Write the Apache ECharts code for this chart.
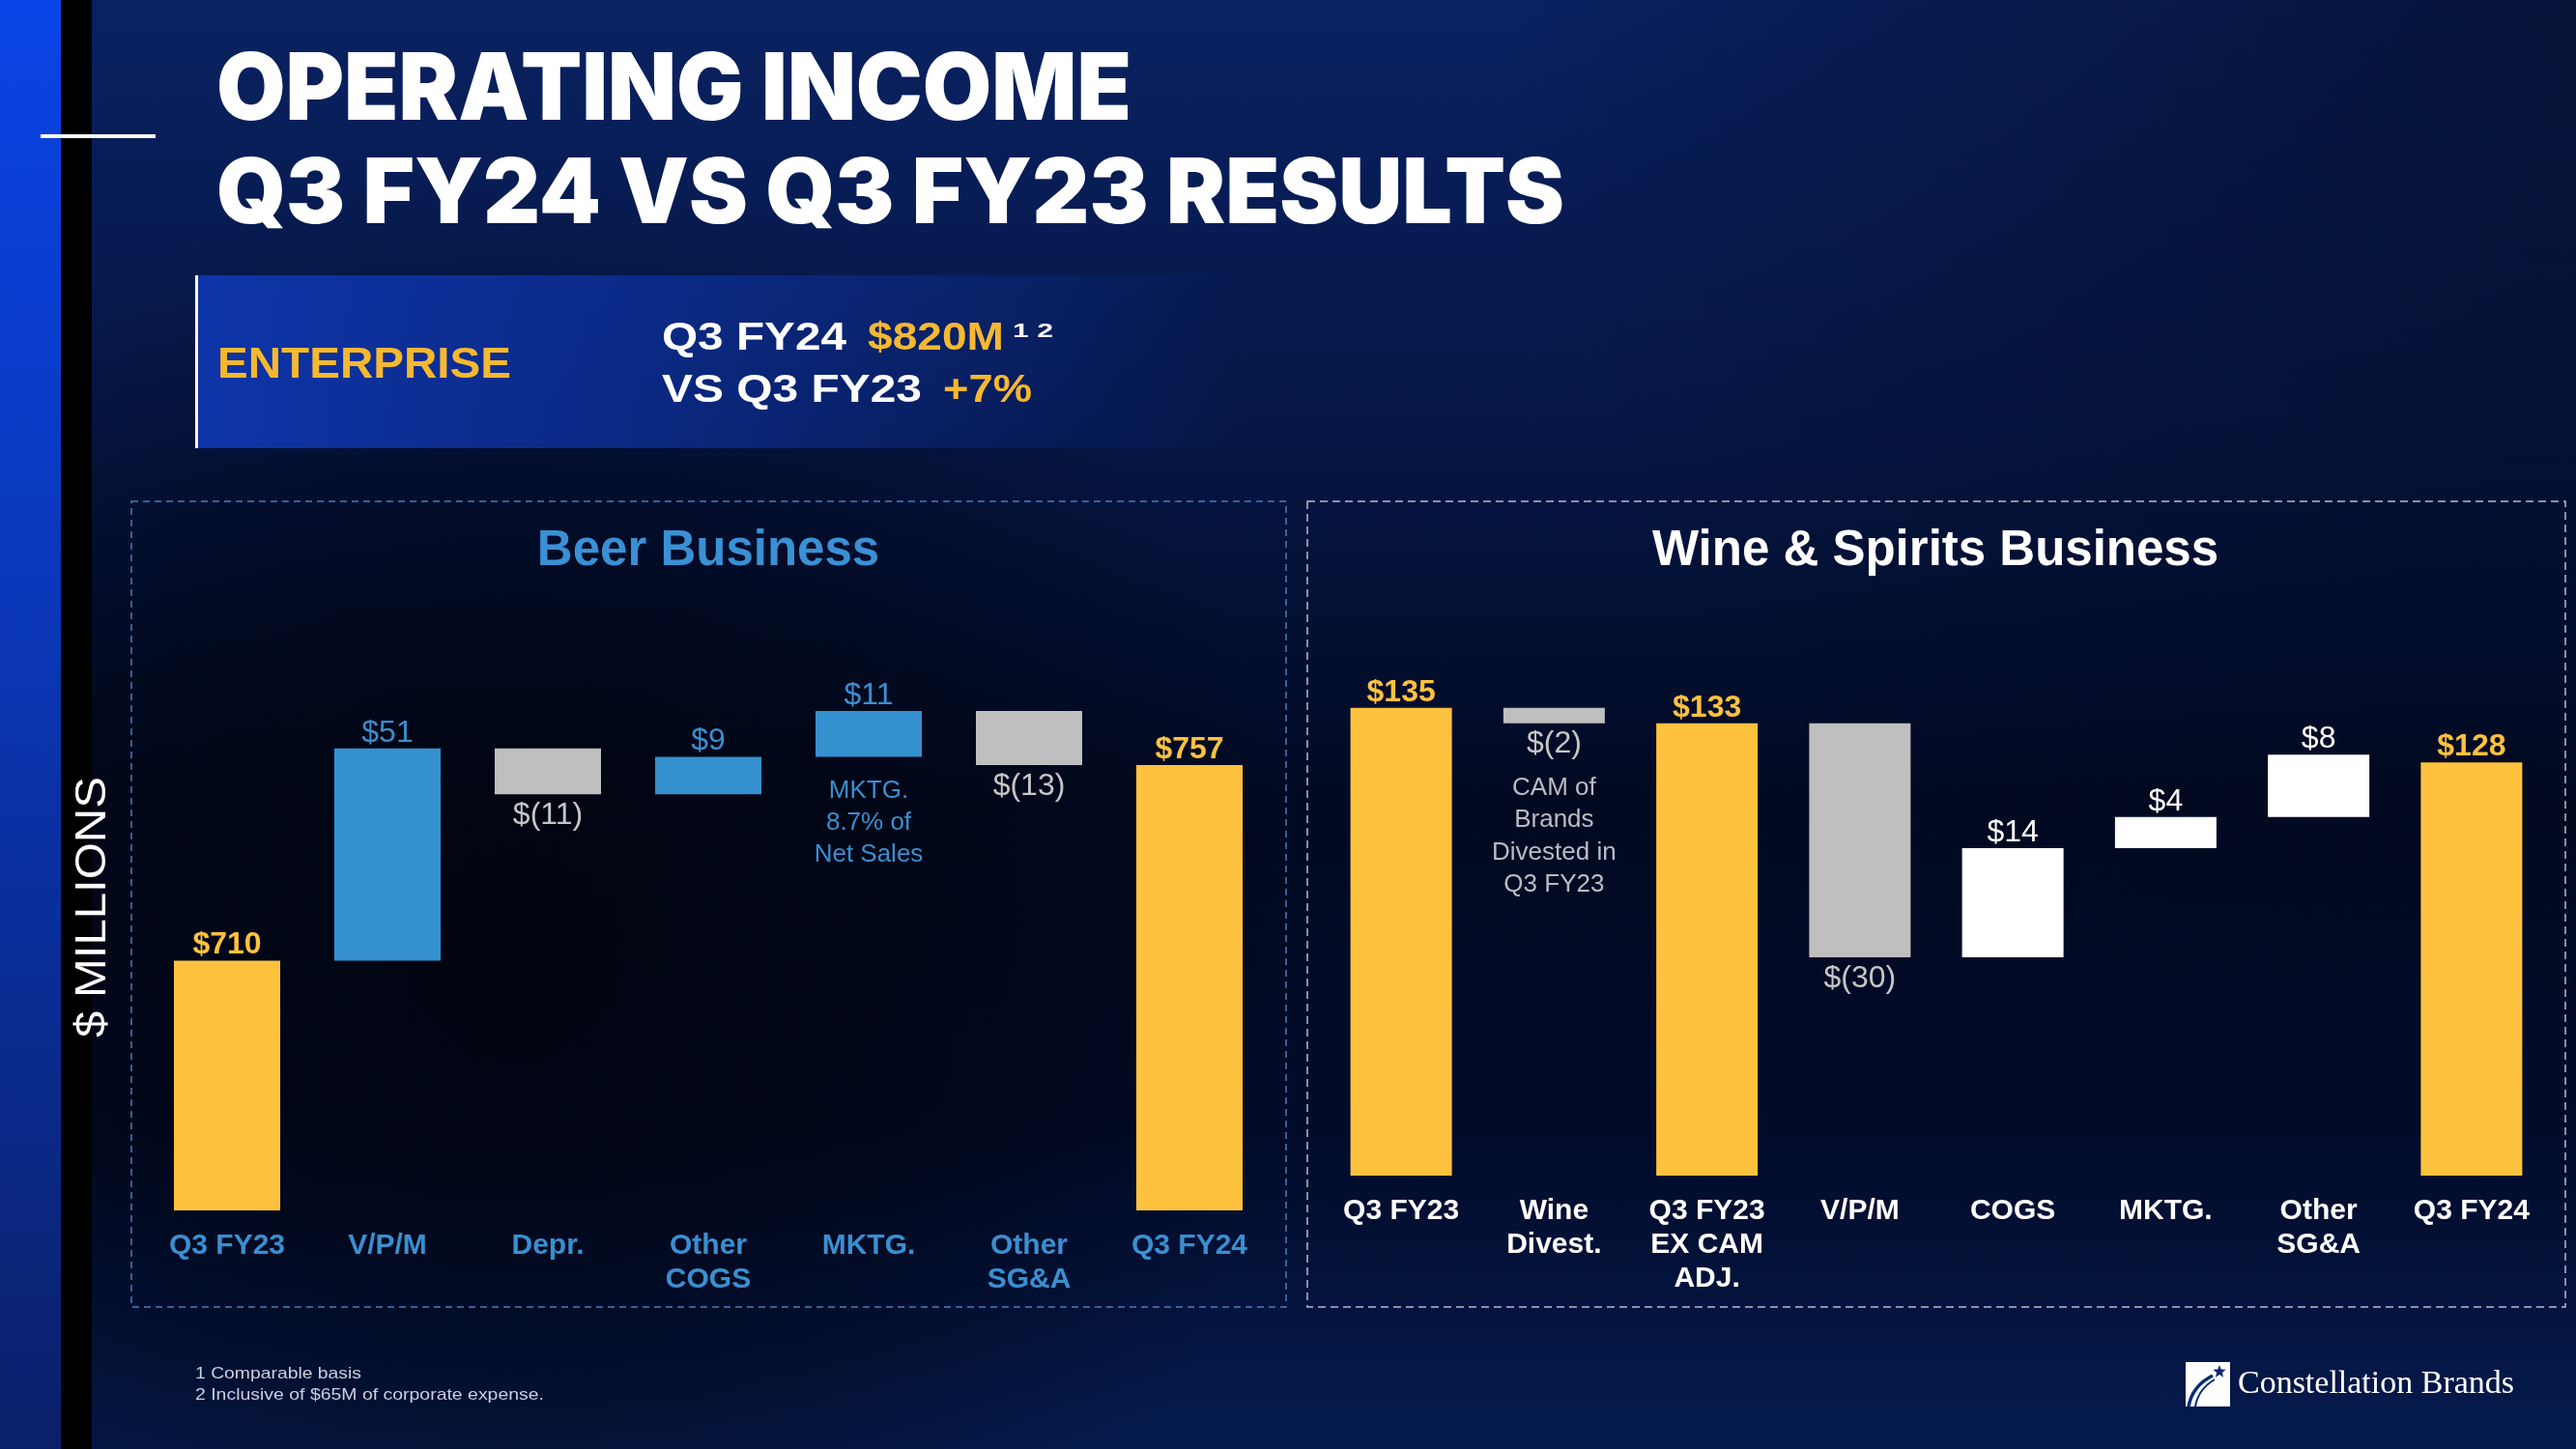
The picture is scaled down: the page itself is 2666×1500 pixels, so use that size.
<!DOCTYPE html>
<html>
<head>
<meta charset="utf-8">
<script src="https://cdn.jsdelivr.net/npm/echarts@6/dist/echarts.min.js"></script>
<style>
html,body{margin:0;padding:0;background:#020a22;}
#c{width:2666px;height:1500px;}
</style>
</head>
<body>
<div id="c"></div>
<script>
// ---------------- DATA ----------------
const beerCategories = ['Q3 FY23', 'V/P/M', 'Depr.', 'Other\nCOGS', 'MKTG.', 'Other\nSG&A', 'Q3 FY24'];
const beerValues = [710, 51, -11, 9, 11, -13, 757];
const beerIsTotal = [true, false, false, false, false, false, true];
const beerValueLabels = ['$710', '$51', '$(11)', '$9', '$11', '$(13)', '$757'];
const beerNoteIndex = 4;
const beerNoteLines = ['MKTG.', '8.7% of', 'Net Sales'];

const wineCategories = ['Q3 FY23', 'Wine\nDivest.', 'Q3 FY23\nEX CAM\nADJ.', 'V/P/M', 'COGS', 'MKTG.', 'Other\nSG&A', 'Q3 FY24'];
const wineValues = [135, -2, 133, -30, 14, 4, 8, 128];
const wineIsTotal = [true, false, true, false, false, false, false, true];
const wineValueLabels = ['$135', '$(2)', '$133', '$(30)', '$14', '$4', '$8', '$128'];
const wineNoteIndex = 1;
const wineNoteLines = ['CAM of', 'Brands', 'Divested in', 'Q3 FY23'];

const titleLines = ['OPERATING INCOME', 'Q3 FY24 VS Q3 FY23 RESULTS'];
const panelTitles = ['Beer Business', 'Wine & Spirits Business'];
const footnotes = ['1 Comparable basis', '2 Inclusive of $65M of corporate expense.'];

// ---------------- STYLE ----------------
const SANS = "'Liberation Sans', Arial, sans-serif";
const SERIF = "'Liberation Serif', 'DejaVu Serif', serif";
const HEAVY = "Inter, 'Open Sans', 'DejaVu Sans', sans-serif";
const YELLOW = '#ffc23f';
const BLUE = '#3590cf';
const BLUE_TXT = '#3a8fd0';
const GRAY = '#bfbfbf';
const GRAY_TXT = '#c6c6c6';

const mctx = document.createElement('canvas').getContext('2d');
function measure(text, font) { mctx.font = font; return mctx.measureText(text).width; }
function fitText(o) {
  const weight = o.weight || 'normal';
  const font = weight + ' ' + o.size + 'px ' + o.family;
  const w = measure(o.text, font);
  const sx = o.w ? o.w / w : 1;
  return {
    type: 'text', x: o.x, y: o.y, scaleX: sx, rotation: o.rotation || 0, z: 20, silent: true,
    style: {
      text: o.text, x: 0, y: 0, font: font, fill: o.color,
      align: o.align || 'left', textAlign: o.align || 'left',
      verticalAlign: 'middle', textVerticalAlign: 'middle'
    }
  };
}

function waterfall(values, isTotal) {
  const base = [], size = [];
  let run = 0;
  values.forEach((v, i) => {
    if (isTotal[i]) { base.push(0); size.push(v); run = v; }
    else { base.push(Math.min(run, run + v)); size.push(Math.abs(v)); run += v; }
  });
  return { base, size };
}

const beerW = waterfall(beerValues, beerIsTotal);
const wineW = waterfall(wineValues, wineIsTotal);

function valueData(w, values, isTotal, labels, posColor, noteIdx, noteLines) {
  return w.size.map((s, i) => {
    const neg = !isTotal[i] && values[i] < 0;
    const color = isTotal[i] ? YELLOW : (neg ? GRAY : posColor);
    const txtColor = isTotal[i] ? YELLOW : (neg ? GRAY_TXT : (posColor === '#ffffff' ? '#ffffff' : BLUE_TXT));
    const label = {
      show: true, position: neg ? 'bottom' : 'top', distance: neg ? 6 : 0,
      color: txtColor, fontSize: 32, fontFamily: SANS,
      fontWeight: isTotal[i] ? 'bold' : 'normal',
      formatter: labels[i]
    };
    if (noteIdx === i && neg) {
      label.distance = 1;
      label.formatter = '{v|' + labels[i] + '}\n{g| }\n' + noteLines.map(l => '{n|' + l + '}').join('\n');
      label.rich = {
        v: { fontSize: 32, lineHeight: 40, color: GRAY_TXT, fontFamily: SANS },
        g: { fontSize: 6, lineHeight: 9 },
        n: { fontSize: 26, lineHeight: 33.5, color: '#b9bcc4', fontFamily: SANS }
      };
    }
    return { value: s, itemStyle: { color: color }, label: label };
  });
}

function baseData(w, noteIdx, noteLines, values) {
  return w.base.map((b, i) => {
    if (i === noteIdx && values[i] > 0) {
      return {
        value: b,
        label: {
          show: true, position: 'insideTop', distance: 19,
          formatter: noteLines.join('\n'), color: BLUE_TXT,
          fontSize: 26, lineHeight: 33, fontFamily: SANS
        }
      };
    }
    return b;
  });
}

// ---------------- DECORATION ----------------
const g = [];
g.push({ type: 'rect', z: 0, silent: true, shape: { x: 0, y: 0, width: 2666, height: 1500 },
  style: { fill: { type: 'linear', x: 0, y: 0, x2: 0, y2: 1, colorStops: [
    { offset: 0, color: '#0a2262' }, { offset: 0.3, color: '#051645' },
    { offset: 0.55, color: '#020a22' }, { offset: 0.78, color: '#020b28' },
    { offset: 1, color: '#051b50' }] } } });
// dark pool over beer area
g.push({ type: 'rect', z: 0, silent: true, shape: { x: 0, y: 0, width: 2666, height: 1500 },
  style: { fill: { type: 'radial', x: 0.2, y: 0.66, r: 0.55, colorStops: [
    { offset: 0, color: 'rgba(0,2,8,0.75)' }, { offset: 0.6, color: 'rgba(0,2,8,0.35)' },
    { offset: 1, color: 'rgba(0,2,8,0)' }] } } });
// darker top-right corner
g.push({ type: 'rect', z: 0, silent: true, shape: { x: 0, y: 0, width: 2666, height: 1500 },
  style: { fill: { type: 'radial', x: 1, y: 0, r: 0.75, colorStops: [
    { offset: 0, color: 'rgba(0,6,22,0.55)' }, { offset: 1, color: 'rgba(0,6,22,0)' }] } } });
// left stripes
g.push({ type: 'rect', z: 1, silent: true, shape: { x: 0, y: 0, width: 63, height: 1500 },
  style: { fill: { type: 'linear', x: 0, y: 0, x2: 0, y2: 1, colorStops: [
    { offset: 0, color: '#0a44e6' }, { offset: 0.45, color: '#0a36b4' }, { offset: 1, color: '#0a1f68' }] } } });
g.push({ type: 'rect', z: 1, silent: true, shape: { x: 63, y: 0, width: 32, height: 1500 }, style: { fill: '#000000' } });
g.push({ type: 'rect', z: 2, silent: true, shape: { x: 42, y: 139, width: 119, height: 4 }, style: { fill: '#ffffff' } });
// enterprise box
g.push({ type: 'rect', z: 1, silent: true, shape: { x: 202, y: 285, width: 1080, height: 179 },
  style: { fill: { type: 'linear', x: 0, y: 0, x2: 1, y2: 0, colorStops: [
    { offset: 0, color: 'rgba(14,52,168,1)' }, { offset: 0.45, color: 'rgba(14,52,168,0.65)' },
    { offset: 1, color: 'rgba(14,52,168,0)' }] } } });
g.push({ type: 'rect', z: 2, silent: true, shape: { x: 202, y: 285, width: 3, height: 179 }, style: { fill: '#ffffff' } });
// dashed panels
g.push({ type: 'rect', z: 2, silent: true, shape: { x: 136, y: 519, width: 1195, height: 834 },
  style: { fill: 'none', stroke: '#4a7cba', lineWidth: 1.5, lineDash: [7, 5] } });
g.push({ type: 'rect', z: 2, silent: true, shape: { x: 1353, y: 519, width: 1302, height: 834 },
  style: { fill: 'none', stroke: '#b4bccb', lineWidth: 1.5, lineDash: [8, 5] } });
// titles
g.push(fitText({ text: titleLines[0], x: 224, y: 95, w: 947, size: 96, weight: 900, family: HEAVY, color: '#ffffff' }));
g.push(fitText({ text: titleLines[1], x: 224, y: 203, w: 1395, size: 94, weight: 900, family: HEAVY, color: '#ffffff' }));
// enterprise texts
g.push(fitText({ text: 'ENTERPRISE', x: 225, y: 379, w: 304, size: 44, weight: 'bold', family: SANS, color: '#f6b830' }));
g.push(fitText({ text: 'Q3 FY24', x: 685, y: 351, w: 191, size: 41, weight: 'bold', family: SANS, color: '#ffffff' }));
g.push(fitText({ text: '$820M', x: 898, y: 351, w: 141, size: 41, weight: 'bold', family: SANS, color: '#f6b830' }));
g.push(fitText({ text: '1 2', x: 1048, y: 343, w: 42, size: 21, weight: 'bold', family: SANS, color: '#ffffff' }));
g.push(fitText({ text: 'VS Q3 FY23', x: 685, y: 405, w: 269, size: 41, weight: 'bold', family: SANS, color: '#ffffff' }));
g.push(fitText({ text: '+7%', x: 976, y: 405, w: 92, size: 41, weight: 'bold', family: SANS, color: '#f6b830' }));
// panel titles
g.push(fitText({ text: panelTitles[0], x: 733, y: 571, size: 51, weight: 'bold', family: SANS, color: '#3a90d4', align: 'center' }));
g.push(fitText({ text: panelTitles[1], x: 2003, y: 571, size: 51, weight: 'bold', family: SANS, color: '#ffffff', align: 'center' }));
// axis unit
g.push(fitText({ text: '$ MILLIONS', x: 97, y: 939, w: 270, size: 44, family: SANS, color: '#ffffff', align: 'center', rotation: Math.PI / 2 }));
// footnotes
g.push(fitText({ text: footnotes[0], x: 202, y: 1422, w: 172, size: 17, family: SANS, color: '#c9cfe0' }));
g.push(fitText({ text: footnotes[1], x: 202, y: 1444, w: 361, size: 17, family: SANS, color: '#c9cfe0' }));
// logo
g.push({ type: 'rect', z: 2, silent: true, shape: { x: 2262, y: 1410, width: 46, height: 46 }, style: { fill: '#ffffff' } });
g.push({ type: 'bezierCurve', z: 3, silent: true,
  shape: { x1: 2265, y1: 1456, x2: 2290, y2: 1424, cpx1: 2268, cpy1: 1440, cpx2: 2278, cpy2: 1430 },
  style: { stroke: '#0a2a6e', lineWidth: 3.5, fill: 'none' } });
g.push({ type: 'bezierCurve', z: 3, silent: true,
  shape: { x1: 2272, y1: 1456, x2: 2292, y2: 1428, cpx1: 2274, cpy1: 1444, cpx2: 2282, cpy2: 1434 },
  style: { stroke: '#0a2a6e', lineWidth: 2, fill: 'none' } });
(function () {
  const pts = [], cx = 2297, cy = 1420, R = 7, r = 3;
  for (let k = 0; k < 10; k++) {
    const a = -Math.PI / 2 + k * Math.PI / 5, rr = k % 2 ? r : R;
    pts.push([cx + rr * Math.cos(a), cy + rr * Math.sin(a)]);
  }
  g.push({ type: 'polygon', z: 3, silent: true, shape: { points: pts }, style: { fill: '#0a2a6e' } });
})();
g.push(fitText({ text: 'Constellation Brands', x: 2316, y: 1433, w: 286, size: 33, family: SERIF, color: '#ffffff' }));

// ---------------- CHART ----------------
const axisLabelBase = { interval: 0, margin: 19, fontSize: 30, fontWeight: 'bold', fontFamily: SANS, lineHeight: 35 };

const option = {
  backgroundColor: 'transparent',
  animation: false,
  graphic: { elements: g },
  grid: [
    { left: 152, top: 693, width: 1162, height: 560 },
    { left: 1371, top: 652, width: 1266, height: 565 }
  ],
  xAxis: [
    { type: 'category', gridIndex: 0, data: beerCategories, axisLine: { show: false }, axisTick: { show: false },
      axisLabel: Object.assign({}, axisLabelBase, { color: BLUE_TXT }) },
    { type: 'category', gridIndex: 1, data: wineCategories, axisLine: { show: false }, axisTick: { show: false },
      axisLabel: Object.assign({}, axisLabelBase, { color: '#ffffff' }) }
  ],
  yAxis: [
    { type: 'value', gridIndex: 0, min: 650, max: 780, show: false, splitLine: { show: false } },
    { type: 'value', gridIndex: 1, min: 75, max: 145, show: false, splitLine: { show: false } }
  ],
  series: [
    { type: 'bar', name: 'beer-base', xAxisIndex: 0, yAxisIndex: 0, stack: 'beer', barWidth: 110, silent: true,
      itemStyle: { color: 'rgba(0,0,0,0)' }, data: baseData(beerW, beerNoteIndex, beerNoteLines, beerValues) },
    { type: 'bar', name: 'beer', xAxisIndex: 0, yAxisIndex: 0, stack: 'beer', barWidth: 110,
      data: valueData(beerW, beerValues, beerIsTotal, beerValueLabels, BLUE, beerNoteIndex, beerNoteLines) },
    { type: 'bar', name: 'wine-base', xAxisIndex: 1, yAxisIndex: 1, stack: 'wine', barWidth: 105, silent: true,
      itemStyle: { color: 'rgba(0,0,0,0)' }, data: baseData(wineW, -1, [], wineValues) },
    { type: 'bar', name: 'wine', xAxisIndex: 1, yAxisIndex: 1, stack: 'wine', barWidth: 105,
      data: valueData(wineW, wineValues, wineIsTotal, wineValueLabels, '#ffffff', wineNoteIndex, wineNoteLines) }
  ]
};

const chart = echarts.init(document.getElementById('c'), null, { renderer: 'canvas' });
chart.setOption(option);
</script>
</body>
</html>
